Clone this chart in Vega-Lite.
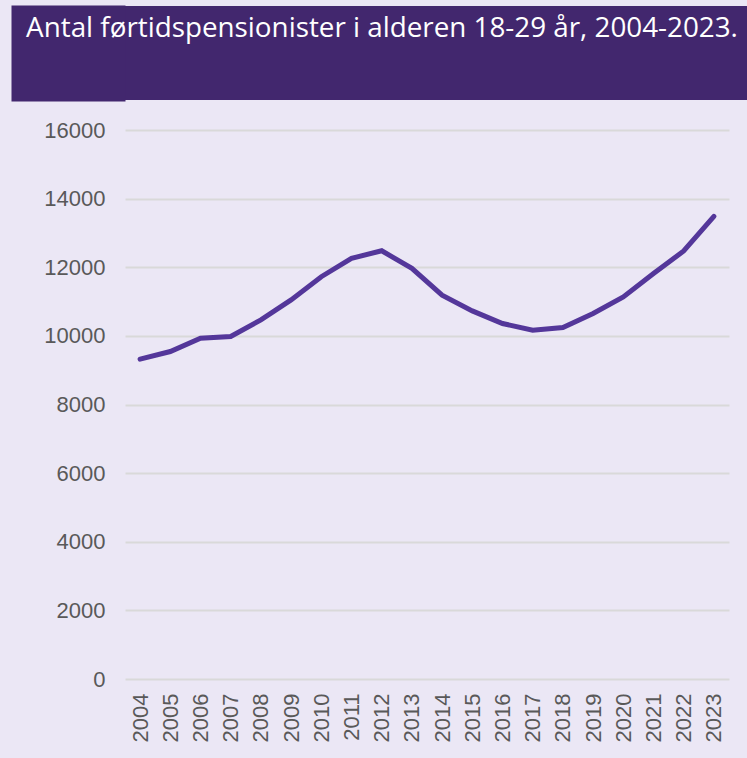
{
  "$schema": "https://vega.github.io/schema/vega-lite/v6.json",
  "background": "#ebe7f5",
  "padding": {"left": -37, "top": 5, "right": 37, "bottom": 16},
  "spacing": 30,
  "bounds": "flush",
  "config": {
    "view": {"stroke": null},
    "axis": {"labelFont": "Liberation Sans", "labelColor": "#595959", "labelFontSize": 22}
  },
  "vconcat": [
    {
      "width": 622,
      "height": 94,
      "view": {"fill": "#42276e", "stroke": null},
      "data": {"values": [{"t": "Antal førtidspensionister i alderen 18-29 år, 2004-2023.", "mid": 0}]},
      "mark": {"type": "text", "color": "white", "font": "Open Sans", "fontSize": 27.8, "align": "center", "baseline": "alphabetic", "dx": -54, "dy": -16},
      "encoding": {
        "text": {"field": "t"},
        "y": {
          "field": "mid", "type": "quantitative",
          "scale": {"domain": [-1, 1]},
          "axis": {"title": null, "values": [0], "labels": false, "domain": false, "grid": false, "ticks": true, "tickSize": 114, "tickWidth": 96, "tickColor": "#42276e", "tickCap": "butt", "minExtent": 114, "maxExtent": 114}
        }
      }
    },
    {
      "width": 604,
      "height": 549,
      "data": {"values": [
        {"year": "2004", "value": 9323},
        {"year": "2005", "value": 9544},
        {"year": "2006", "value": 9933},
        {"year": "2007", "value": 9980},
        {"year": "2008", "value": 10465},
        {"year": "2009", "value": 11047},
        {"year": "2010", "value": 11724},
        {"year": "2011", "value": 12258},
        {"year": "2012", "value": 12480},
        {"year": "2013", "value": 11968},
        {"year": "2014", "value": 11185},
        {"year": "2015", "value": 10728},
        {"year": "2016", "value": 10361},
        {"year": "2017", "value": 10166},
        {"year": "2018", "value": 10245},
        {"year": "2019", "value": 10652},
        {"year": "2020", "value": 11135},
        {"year": "2021", "value": 11815},
        {"year": "2022", "value": 12475},
        {"year": "2023", "value": 13485}
      ]},
      "mark": {"type": "line", "color": "#54379a", "strokeWidth": 5, "strokeCap": "round"},
      "encoding": {
        "x": {
          "field": "year", "type": "ordinal",
          "scale": {"type": "point", "padding": 0.5},
          "axis": {"title": null, "labelAngle": -90, "labelAlign": "right", "labelBaseline": "middle", "domain": false, "ticks": false, "grid": false, "labelPadding": 14}
        },
        "y": {
          "field": "value", "type": "quantitative",
          "scale": {"domain": [0, 16000], "nice": false},
          "axis": {"title": null, "format": "d", "values": [0, 2000, 4000, 6000, 8000, 10000, 12000, 14000, 16000], "domain": false, "ticks": false, "grid": true, "gridColor": "#d9d9d9", "gridWidth": 2, "labelPadding": 20, "minExtent": 162}
        }
      }
    }
  ]
}
